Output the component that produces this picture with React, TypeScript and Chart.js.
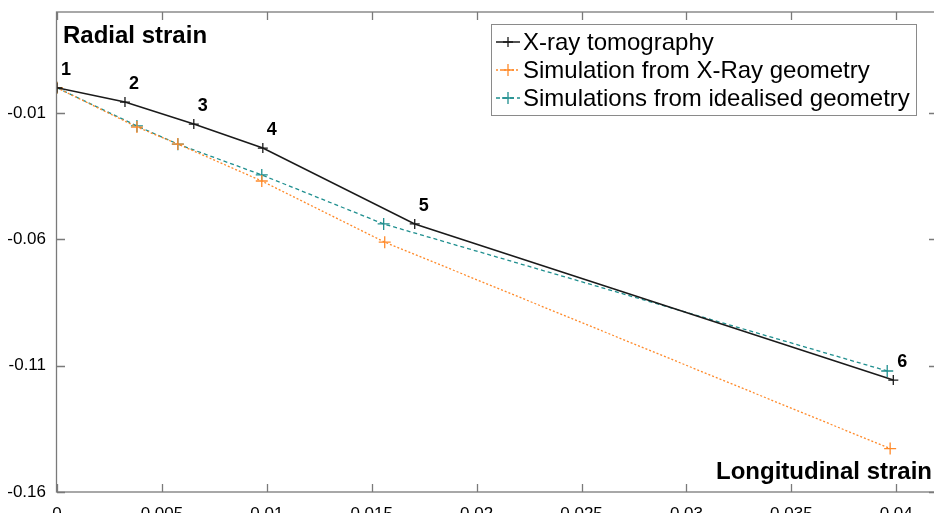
import React, { useEffect, useRef } from "react";
import { Chart, registerables } from "chart.js";
Chart.register(...registerables);

const seriesNames = [
  "X-ray tomography",
  "Simulation from X-Ray geometry",
  "Simulations from idealised geometry",
];
const xrayX = [0, 0.00324, 0.00652, 0.00981, 0.01705, 0.03986];
const xrayY = [0, -0.00565, -0.01435, -0.02385, -0.0539, -0.1157];
const simXrayX = [0, 0.00381, 0.00576, 0.00976, 0.01562, 0.03971];
const simXrayY = [0, -0.01554, -0.02227, -0.0369, -0.0611, -0.1428];
const simIdealX = [0, 0.00381, 0.00576, 0.00976, 0.01557, 0.03957];
const simIdealY = [0, -0.0151, -0.0223, -0.0345, -0.0539, -0.1121];
const pointLabels = ["1", "2", "3", "4", "5", "6"];
const xTicks = [0, 0.005, 0.01, 0.015, 0.02, 0.025, 0.03, 0.035, 0.04];
const yTicks = [-0.16, -0.11, -0.06, -0.01];
const yTitle = "Radial strain";
const xTitle = "Longitudinal strain";

const FONT = '"Liberation Sans", Arial, sans-serif';
const BLACK = "#1a1a1a";
const ORANGE = "#ff8a2a";
const TEAL = "#1f8f8f";
const FRAME = "#7a7a7a";

const zip = (xs: number[], ys: number[]) => xs.map((x, i) => ({ x, y: ys[i] }));
const fmt = (v: number) => String(Number(v.toFixed(4)));

const decorPlugin = {
  id: "decor",
  afterDraw(chart: any) {
    const ctx = chart.ctx;
    const { left, right, top, bottom } = chart.chartArea;
    const xs = chart.scales.x;
    const ys = chart.scales.y;
    const frameRight = right + 3;
    ctx.save();
    // frame
    ctx.strokeStyle = FRAME;
    ctx.lineWidth = 1.3;
    ctx.setLineDash([]);
    ctx.strokeRect(left - 0.5, top, frameRight - left, bottom - top);
    const tl = 8;
    ctx.beginPath();
    xTicks.forEach((v) => {
      const px = Math.round(xs.getPixelForValue(v)) + 0.5;
      ctx.moveTo(px, bottom);
      ctx.lineTo(px, bottom - tl);
      ctx.moveTo(px, top);
      ctx.lineTo(px, top + tl);
    });
    yTicks.forEach((v) => {
      const py = Math.round(ys.getPixelForValue(v)) + 0.5;
      ctx.moveTo(left, py);
      ctx.lineTo(left + tl, py);
      ctx.moveTo(frameRight, py);
      ctx.lineTo(frameRight - tl, py);
    });
    ctx.stroke();

    // axis titles
    ctx.fillStyle = "#000";
    ctx.font = `bold 24px ${FONT}`;
    ctx.textBaseline = "alphabetic";
    ctx.textAlign = "left";
    ctx.fillText(yTitle, 63, 43);
    ctx.textAlign = "right";
    ctx.fillText(xTitle, 932, 479);

    // point labels
    const meta = chart.getDatasetMeta(0);
    ctx.font = `bold 18px ${FONT}`;
    ctx.textAlign = "center";
    ctx.textBaseline = "middle";
    meta.data.forEach((pt: any, i: number) => {
      ctx.fillText(pointLabels[i], pt.x + 9, pt.y - 18);
    });

    // legend
    const bx = 491, by = 24, bw = 425, bh = 91;
    ctx.fillStyle = "#fff";
    ctx.fillRect(bx, by, bw, bh);
    ctx.strokeStyle = "#8a8a8a";
    ctx.lineWidth = 1;
    ctx.strokeRect(bx + 0.5, by + 0.5, bw, bh);
    chart.data.datasets.forEach((ds: any, i: number) => {
      const cy = 42 + 28 * i;
      ctx.strokeStyle = ds.borderColor;
      ctx.lineWidth = ds.borderWidth;
      ctx.setLineDash(ds.borderDash || []);
      ctx.beginPath();
      ctx.moveTo(496, cy);
      ctx.lineTo(520, cy);
      ctx.stroke();
      ctx.setLineDash([]);
      const r = ds.pointRadius;
      ctx.lineWidth = ds.pointBorderWidth;
      ctx.beginPath();
      ctx.moveTo(508 - r, cy);
      ctx.lineTo(508 + r, cy);
      ctx.moveTo(508, cy - r);
      ctx.lineTo(508, cy + r);
      ctx.stroke();
      ctx.fillStyle = "#000";
      ctx.font = `24px ${FONT}`;
      ctx.textAlign = "left";
      ctx.textBaseline = "middle";
      ctx.fillText(ds.label, 523, cy + 1);
    });
    ctx.restore();
  },
};

export default function App() {
  const ref = useRef<HTMLCanvasElement | null>(null);
  useEffect(() => {
    if (!ref.current) return;
    const chart = new Chart(ref.current, {
      type: "scatter",
      data: {
        datasets: [
          {
            label: seriesNames[0],
            data: zip(xrayX, xrayY),
            showLine: true,
            borderColor: BLACK,
            borderWidth: 1.5,
            pointStyle: "cross",
            pointRadius: 5,
            pointBorderWidth: 1.3,
            pointBorderColor: BLACK,
            pointBackgroundColor: BLACK,
          },
          {
            label: seriesNames[1],
            data: zip(simXrayX, simXrayY),
            showLine: true,
            borderColor: ORANGE,
            borderWidth: 1.3,
            borderDash: [2, 2],
            pointStyle: "cross",
            pointRadius: 6,
            pointBorderWidth: 1.3,
            pointBorderColor: ORANGE,
            pointBackgroundColor: ORANGE,
          },
          {
            label: seriesNames[2],
            data: zip(simIdealX, simIdealY),
            showLine: true,
            borderColor: TEAL,
            borderWidth: 1.3,
            borderDash: [4, 3],
            pointStyle: "cross",
            pointRadius: 6,
            pointBorderWidth: 1.3,
            pointBorderColor: TEAL,
            pointBackgroundColor: TEAL,
          },
        ],
      },
      options: {
        responsive: false,
        animation: false,
        layout: { autoPadding: false, padding: { top: 12, right: 0, left: 0, bottom: 0 } },
        plugins: { legend: { display: false }, tooltip: { enabled: false } },
        scales: {
          x: {
            type: "linear",
            min: 0,
            max: 0.0418,
            grid: { display: false, drawTicks: false },
            border: { display: false },
            afterBuildTicks: (s: any) => {
              s.ticks = xTicks.map((v) => ({ value: v }));
            },
            afterFit: (s: any) => {
              s.height = 21;
              s.paddingLeft = 0;
              s.paddingRight = 0;
            },
            ticks: {
              padding: 12,
              color: "#000",
              font: { family: FONT, size: 17 },
              callback: (v: any) => fmt(Number(v)),
              maxRotation: 0,
              autoSkip: false,
            },
          },
          y: {
            type: "linear",
            min: -0.16,
            max: 0.03,
            grid: { display: false, drawTicks: false },
            border: { display: false },
            afterBuildTicks: (s: any) => {
              s.ticks = yTicks.map((v) => ({ value: v }));
            },
            afterFit: (s: any) => {
              s.width = 57;
              s.paddingTop = 0;
              s.paddingBottom = 0;
            },
            ticks: {
              padding: 11,
              color: "#000",
              font: { family: FONT, size: 17 },
              callback: (v: any) => fmt(Number(v)),
              autoSkip: false,
            },
          },
        },
      },
      plugins: [decorPlugin],
    } as any);
    return () => chart.destroy();
  }, []);
  return (
    <div style={{ position: "fixed", left: 0, top: 0, width: 934, height: 513, background: "#fff" }}>
      <canvas ref={ref} width={934} height={513} style={{ display: "block" }} />
    </div>
  );
}
